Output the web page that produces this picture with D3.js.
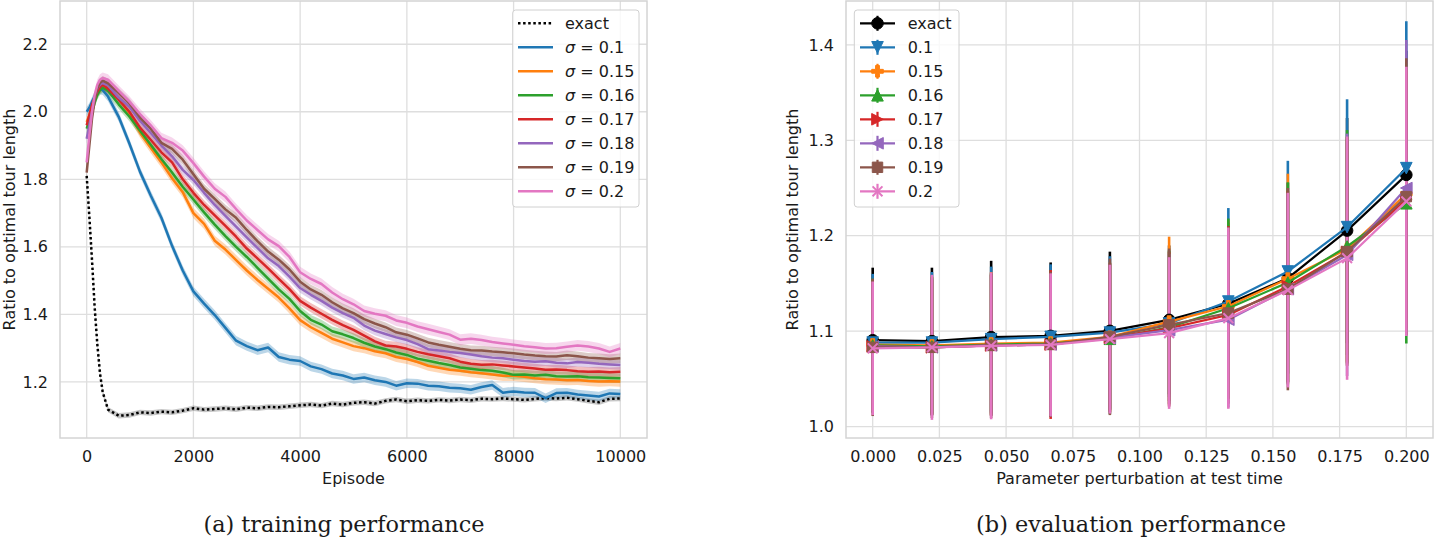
<!DOCTYPE html>
<html>
<head>
<meta charset="utf-8">
<script src="https://cdn.jsdelivr.net/npm/d3@7"></script>
<style>
body { margin: 0; background: #fff; }
text { font-family: "DejaVu Sans", sans-serif; fill: #1a1a1a; }
</style>
</head>
<body>
<svg width="1434" height="541"></svg>
<script>
// ============================ DATA: (a) training performance ============================
const episodes = [0,50,100,150,200,250,300,400,600,800,1000,1200,1400,1600,1800,2000,2200,2400,2600,2800,3000,3200,3400,3600,3800,4000,4200,4400,4600,4800,5000,5200,5400,5600,5800,6000,6200,6400,6600,6800,7000,7200,7400,7600,7800,8000,8200,8400,8600,8800,9000,9200,9400,9600,9800,10000];

const trainExact = [1.81,1.69,1.56,1.42,1.31,1.225,1.17,1.118,1.100,1.102,1.110,1.108,1.112,1.110,1.115,1.122,1.118,1.120,1.122,1.119,1.124,1.122,1.126,1.125,1.128,1.131,1.133,1.130,1.136,1.133,1.138,1.140,1.136,1.144,1.148,1.143,1.146,1.144,1.147,1.145,1.148,1.146,1.150,1.149,1.151,1.149,1.147,1.150,1.152,1.151,1.153,1.149,1.144,1.140,1.150,1.151];
const trainS010 = [2.00,2.012,2.03,2.046,2.058,2.066,2.064,2.045,1.985,1.906,1.822,1.752,1.686,1.603,1.530,1.468,1.432,1.398,1.360,1.322,1.306,1.294,1.302,1.274,1.266,1.262,1.246,1.238,1.225,1.219,1.209,1.213,1.205,1.200,1.189,1.196,1.195,1.189,1.187,1.183,1.181,1.177,1.185,1.191,1.168,1.172,1.169,1.168,1.152,1.167,1.168,1.163,1.160,1.157,1.166,1.164];
const trainS015 = [1.97,1.99,2.015,2.038,2.058,2.07,2.076,2.072,2.040,1.995,1.938,1.893,1.850,1.803,1.762,1.700,1.668,1.618,1.592,1.561,1.530,1.502,1.476,1.450,1.418,1.383,1.362,1.345,1.328,1.317,1.306,1.300,1.291,1.285,1.274,1.268,1.259,1.248,1.242,1.236,1.233,1.229,1.226,1.222,1.218,1.218,1.215,1.211,1.208,1.207,1.205,1.206,1.203,1.201,1.202,1.201];
const trainS016 = [1.95,1.975,2.00,2.027,2.05,2.064,2.072,2.062,2.022,1.986,1.944,1.902,1.860,1.820,1.778,1.740,1.702,1.666,1.632,1.600,1.570,1.538,1.506,1.474,1.446,1.410,1.384,1.370,1.350,1.341,1.330,1.316,1.305,1.297,1.287,1.280,1.269,1.263,1.256,1.250,1.243,1.239,1.235,1.233,1.228,1.221,1.222,1.219,1.221,1.217,1.216,1.217,1.214,1.213,1.212,1.211];
const trainS017 = [1.96,1.99,2.02,2.042,2.06,2.073,2.08,2.068,2.036,2.000,1.953,1.917,1.880,1.850,1.800,1.760,1.724,1.693,1.662,1.630,1.595,1.566,1.536,1.505,1.475,1.440,1.420,1.402,1.384,1.368,1.354,1.337,1.320,1.308,1.305,1.298,1.289,1.282,1.276,1.270,1.260,1.254,1.251,1.252,1.249,1.246,1.243,1.240,1.236,1.237,1.235,1.232,1.230,1.231,1.229,1.230];
const trainS018 = [1.92,1.96,2.00,2.04,2.07,2.08,2.085,2.078,2.042,2.015,1.973,1.937,1.900,1.868,1.828,1.798,1.760,1.724,1.692,1.660,1.628,1.597,1.566,1.543,1.512,1.478,1.458,1.440,1.420,1.404,1.390,1.367,1.352,1.342,1.332,1.324,1.312,1.297,1.293,1.289,1.286,1.281,1.276,1.272,1.270,1.266,1.262,1.260,1.261,1.257,1.255,1.259,1.257,1.254,1.252,1.250];
const trainS019 = [1.82,1.90,1.98,2.035,2.07,2.086,2.092,2.084,2.056,2.025,1.983,1.950,1.908,1.890,1.858,1.815,1.772,1.742,1.711,1.686,1.650,1.617,1.586,1.562,1.533,1.497,1.474,1.458,1.436,1.418,1.404,1.386,1.373,1.362,1.347,1.340,1.329,1.317,1.310,1.304,1.298,1.294,1.293,1.290,1.288,1.285,1.281,1.278,1.276,1.275,1.279,1.276,1.272,1.270,1.268,1.270];
const trainS020 = [1.85,1.93,2.00,2.05,2.08,2.095,2.10,2.095,2.062,2.030,1.993,1.960,1.922,1.908,1.885,1.848,1.808,1.772,1.748,1.712,1.678,1.650,1.622,1.602,1.570,1.525,1.505,1.490,1.465,1.445,1.430,1.410,1.402,1.396,1.382,1.375,1.364,1.356,1.348,1.340,1.325,1.328,1.324,1.318,1.314,1.310,1.306,1.303,1.299,1.300,1.304,1.308,1.305,1.299,1.289,1.299];
// half width of the shaded band around each training curve
const trainBand = [0.008,0.014,0.015,0.014,0.014,0.014,0.014,0.016];
const trainLabels = ["exact","0.1","0.15","0.16","0.17","0.18","0.19","0.2"];

// ============================ DATA: (b) evaluation performance ============================
const perturb = [0,0.0222,0.0444,0.0667,0.0889,0.1111,0.1333,0.1556,0.1778,0.2];
const evalExact = [1.0905,1.0895,1.0937,1.0950,1.1003,1.1118,1.1287,1.1555,1.2054,1.2638];
const evalS010 = [1.088,1.088,1.0916,1.094,1.0985,1.108,1.131,1.1625,1.209,1.2708];
const evalS015 = [1.086,1.085,1.087,1.088,1.094,1.110,1.126,1.155,1.186,1.244];
const evalS016 = [1.085,1.084,1.086,1.087,1.092,1.104,1.124,1.151,1.1887,1.234];
const evalS017 = [1.084,1.083,1.085,1.086,1.093,1.103,1.117,1.147,1.183,1.238];
const evalS018 = [1.084,1.083,1.085,1.086,1.093,1.101,1.112,1.144,1.180,1.250];
const evalS019 = [1.083,1.083,1.085,1.086,1.094,1.1066,1.119,1.144,1.1834,1.241];
const evalS020 = [1.082,1.083,1.0846,1.0856,1.0916,1.098,1.1136,1.143,1.1765,1.236];
const errExact = [0.076,0.077,0.080,0.077,0.083,0.078,0.085,0.100,0.118,0.130];
const errS010 = [0.072,0.074,0.076,0.076,0.080,0.077,0.098,0.116,0.134,0.154];
const errS015 = [0.068,0.072,0.075,0.074,0.078,0.089,0.090,0.110,0.118,0.130];
const errS016 = [0.070,0.072,0.074,0.077,0.079,0.080,0.094,0.105,0.122,0.147];
const errS017 = [0.068,0.071,0.074,0.078,0.078,0.080,0.093,0.100,0.118,0.135];
const errS018 = [0.068,0.072,0.074,0.074,0.078,0.080,0.092,0.100,0.127,0.155];
const errS019 = [0.072,0.074,0.076,0.076,0.082,0.080,0.090,0.106,0.120,0.145];
const errS020 = [0.070,0.076,0.077,0.075,0.078,0.0795,0.095,0.102,0.1275,0.141];
const evalLabels = ["exact","0.1","0.15","0.16","0.17","0.18","0.19","0.2"];

// tick labels
const leftXTicks = [0,2000,4000,6000,8000,10000];
const leftYTicks = [1.2,1.4,1.6,1.8,2.0,2.2];
const rightXTicks = [0,0.025,0.05,0.075,0.1,0.125,0.15,0.175,0.2];
const rightYTicks = [1.0,1.1,1.2,1.3,1.4];

// ============================ STYLE ============================
const colors = ["#000000","#1f77b4","#ff7f0e","#2ca02c","#d62728","#9467bd","#8c564b","#e377c2"];
const markers = ["o","v","P","^",">","<","s","x"];
const gridColor = "#dedede";
const spineColor = "#d4d4d4";
const fs = 16;

const svg = d3.select("svg");

function drawFrame(g, x, y, xt, yt, xfmt, yfmt) {
  const [x0, x1] = x.range(), [y0, y1] = y.range();
  // grid
  g.append("g").selectAll("line").data(xt).join("line")
    .attr("x1", d => x(d)).attr("x2", d => x(d)).attr("y1", y0).attr("y2", y1)
    .attr("stroke", gridColor).attr("stroke-width", 1.3);
  g.append("g").selectAll("line").data(yt).join("line")
    .attr("y1", d => y(d)).attr("y2", d => y(d)).attr("x1", x0).attr("x2", x1)
    .attr("stroke", gridColor).attr("stroke-width", 1.3);
  // spines
  g.append("rect").attr("x", x0).attr("y", y1).attr("width", x1 - x0).attr("height", y0 - y1)
    .attr("fill", "none").attr("stroke", spineColor).attr("stroke-width", 1.5);
  // tick labels through d3 axes
  const ax = g.append("g").attr("transform", `translate(0,${y0})`)
    .call(d3.axisBottom(x).tickValues(xt).tickFormat(xfmt).tickSize(0).tickPadding(13));
  const ay = g.append("g").attr("transform", `translate(${x0},0)`)
    .call(d3.axisLeft(y).tickValues(yt).tickFormat(yfmt).tickSize(0).tickPadding(12));
  [ax, ay].forEach(a => {
    a.select(".domain").remove();
    a.selectAll("text").attr("font-size", fs).attr("font-family", "DejaVu Sans").attr("fill", "#1a1a1a");
  });
}

// ============================ (a) LEFT PANEL ============================
const xL = d3.scaleLinear().domain([-500, 10500]).range([60, 647]);
const yL = d3.scaleLinear().domain([1.034, 2.328]).range([438, 1]);
const gL = svg.append("g");
drawFrame(gL, xL, yL, leftXTicks, leftYTicks, d3.format("d"), d3.format(".1f"));

svg.append("clipPath").attr("id", "clipL").append("rect")
  .attr("x", 60).attr("y", 1).attr("width", 587).attr("height", 437);

const trainSeries = [trainExact, trainS010, trainS015, trainS016, trainS017, trainS018, trainS019, trainS020];
const plotL = gL.append("g").attr("clip-path", "url(#clipL)");
trainSeries.forEach((vals, i) => {
  const pts = episodes.map((e, k) => ({ e, v: vals[k] }));
  const area = d3.area().x(d => xL(d.e)).y0(d => yL(d.v - trainBand[i])).y1(d => yL(d.v + trainBand[i]));
  plotL.append("path").datum(pts).attr("d", area)
    .attr("fill", colors[i]).attr("fill-opacity", i === 0 ? 0.22 : 0.3);
});
trainSeries.forEach((vals, i) => {
  const pts = episodes.map((e, k) => ({ e, v: vals[k] }));
  const line = d3.line().x(d => xL(d.e)).y(d => yL(d.v));
  plotL.append("path").datum(pts).attr("d", line)
    .attr("fill", "none").attr("stroke", colors[i]).attr("stroke-width", 2.5)
    .attr("stroke-linejoin", "round")
    .attr("stroke-dasharray", i === 0 ? "2.5,2.6" : null);
});

gL.append("text").attr("x", 353.5).attr("y", 484).attr("text-anchor", "middle")
  .attr("font-size", fs).text("Episode");
gL.append("text").attr("transform", "translate(14.6,219.5) rotate(-90)").attr("text-anchor", "middle")
  .attr("font-size", fs).text("Ratio to optimal tour length");

// legend (a)
const legL = gL.append("g");
legL.append("rect").attr("x", 512.7).attr("y", 10).attr("width", 126.3).attr("height", 197).attr("rx", 3)
  .attr("fill", "#fff").attr("fill-opacity", 0.8).attr("stroke", "#d0d0d0").attr("stroke-width", 1);
trainLabels.forEach((lab, i) => {
  const yy = 23.3 + 24 * i;
  legL.append("line").attr("x1", 518).attr("x2", 553).attr("y1", yy).attr("y2", yy)
    .attr("stroke", colors[i]).attr("stroke-width", 2.5)
    .attr("stroke-dasharray", i === 0 ? "2.5,2.6" : null);
  const t = legL.append("text").attr("x", 565).attr("y", yy).attr("dy", "0.35em").attr("font-size", fs);
  if (i === 0) t.text(lab);
  else {
    t.append("tspan").attr("font-style", "italic").text("σ");
    t.append("tspan").text(" = " + lab);
  }
});

// ============================ (b) RIGHT PANEL ============================
const xR = d3.scaleLinear().domain([-0.01, 0.21]).range([846, 1433]);
const yR = d3.scaleLinear().domain([0.988, 1.446]).range([438, 1]);
const gR = svg.append("g");
drawFrame(gR, xR, yR, rightXTicks, rightYTicks, d3.format(".3f"), d3.format(".1f"));

const evalSeries = [evalExact, evalS010, evalS015, evalS016, evalS017, evalS018, evalS019, evalS020];
const evalErr = [errExact, errS010, errS015, errS016, errS017, errS018, errS019, errS020];

function markerPath(m, r) {
  switch (m) {
    case "o": return d3.symbol(d3.symbolCircle, Math.PI * r * r)();
    case "v": return `M0,${r}L${-r},${-r}L${r},${-r}Z`;
    case "^": return `M0,${-r}L${-r},${r}L${r},${r}Z`;
    case ">": return `M${r},0L${-r},${-r}L${-r},${r}Z`;
    case "<": return `M${-r},0L${r},${-r}L${r},${r}Z`;
    case "s": { const s = r * 0.9; return `M${-s},${-s}H${s}V${s}H${-s}Z`; }
    case "P": { const a = r / 3, b = r; return `M${-a},${-b}H${a}V${-a}H${b}V${a}H${a}V${b}H${-a}V${a}H${-b}V${-a}H${-a}Z`; }
    case "x": { const s = r * 0.85; return `M${-s},${-s}L${s},${s}M${-s},${s}L${s},${-s}`; }
  }
}
function drawMarker(g, m, cx, cy, color, r) {
  const p = g.append("path").attr("d", markerPath(m, r)).attr("transform", `translate(${cx},${cy})`);
  if (m === "x") p.attr("fill", "none").attr("stroke", color).attr("stroke-width", 2);
  else p.attr("fill", color).attr("stroke", color).attr("stroke-width", 1);
}

// error bars first (all series), then lines and markers on top
evalSeries.forEach((vals, i) => {
  gR.append("g").selectAll("line").data(perturb).join("line")
    .attr("x1", d => xR(d)).attr("x2", d => xR(d))
    .attr("y1", (d, k) => yR(vals[k] - evalErr[i][k]))
    .attr("y2", (d, k) => yR(vals[k] + evalErr[i][k]))
    .attr("stroke", colors[i]).attr("stroke-width", 2.6);
});
evalSeries.forEach((vals, i) => {
  const pts = perturb.map((p, k) => ({ p, v: vals[k] }));
  gR.append("path").datum(pts)
    .attr("d", d3.line().x(d => xR(d.p)).y(d => yR(d.v)))
    .attr("fill", "none").attr("stroke", colors[i]).attr("stroke-width", 2.2);
  const mg = gR.append("g");
  pts.forEach(d => drawMarker(mg, markers[i], xR(d.p), yR(d.v), colors[i], 5.8));
});

gR.append("text").attr("x", 1139.5).attr("y", 484).attr("text-anchor", "middle")
  .attr("font-size", fs).text("Parameter perturbation at test time");
gR.append("text").attr("transform", "translate(798.4,219.5) rotate(-90)").attr("text-anchor", "middle")
  .attr("font-size", fs).text("Ratio to optimal tour length");

// legend (b)
const legR = gR.append("g");
legR.append("rect").attr("x", 854.3).attr("y", 10).attr("width", 104.7).attr("height", 197).attr("rx", 3)
  .attr("fill", "#fff").attr("fill-opacity", 0.8).attr("stroke", "#d0d0d0").attr("stroke-width", 1);
evalLabels.forEach((lab, i) => {
  const yy = 23.3 + 24 * i;
  legR.append("line").attr("x1", 860).attr("x2", 895).attr("y1", yy).attr("y2", yy)
    .attr("stroke", colors[i]).attr("stroke-width", 2.2);
  legR.append("line").attr("x1", 877.5).attr("x2", 877.5).attr("y1", yy - 7.5).attr("y2", yy + 7.5)
    .attr("stroke", colors[i]).attr("stroke-width", 2.2);
  drawMarker(legR, markers[i], 877.5, yy, colors[i], 5.8);
  legR.append("text").attr("x", 907.7).attr("y", yy).attr("dy", "0.35em").attr("font-size", fs).text(lab);
});

// ============================ CAPTIONS ============================
svg.append("text").attr("x", 344).attr("y", 532).attr("text-anchor", "middle")
  .style("font-family", "'DejaVu Serif', serif").attr("font-size", 22.4).text("(a) training performance");
svg.append("text").attr("x", 1131).attr("y", 532).attr("text-anchor", "middle")
  .style("font-family", "'DejaVu Serif', serif").attr("font-size", 22.4).text("(b) evaluation performance");
</script>
</body>
</html>
